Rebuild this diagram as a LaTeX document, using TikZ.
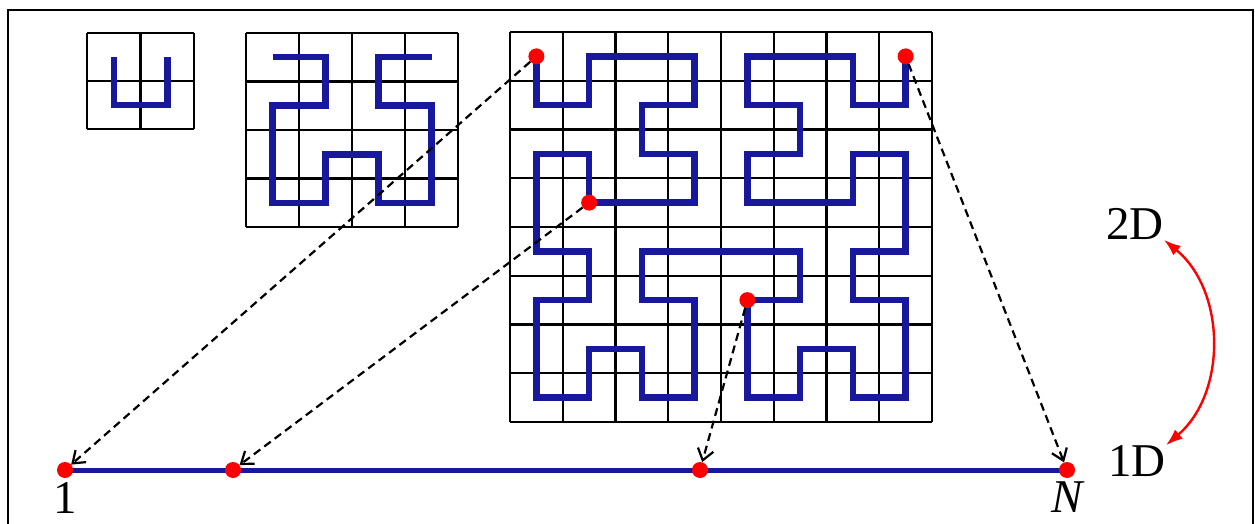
\documentclass[tikz,border=0pt]{standalone}
\usepackage{fontspec}
\setmainfont{Liberation Serif}
\usetikzlibrary{arrows.meta,backgrounds,positioning}

\definecolor{curveblue}{RGB}{24,24,156}

\begin{document}
\begin{tikzpicture}[
  x=1pt, y=-1pt,
  gridline/.style={draw, line width=2.4pt},
  hilbert/.style={draw=curveblue, line width=6.5pt, line join=miter},
  dot/.style={circle, fill=red, minimum size=16pt, inner sep=0pt},
  maparrow/.style={draw, line width=2.2pt, dash pattern=on 8pt off 5pt, -{Straight Barb[length=11pt,width=16pt]}},
  axisline/.style={draw=curveblue, line width=5pt},
  dimlabel/.style={font=\fontsize{47}{47}\selectfont, inner sep=0pt},
  swap/.style={draw=red, line width=2.4pt, {Latex[length=17pt,width=12pt]}-{Latex[length=17pt,width=12pt]}}
]
\useasboundingbox (0,0) rectangle (1255,524);
\draw[line width=2.5pt] (8,524) -- (8,10) -- (1253,10) -- (1253,524);

\begin{scope}[shift={(87,33)}, x=53.5pt, y=-48pt]
  \foreach \i in {0,...,2} {
    \draw[gridline] (\i,0) -- (\i,2);
    \draw[gridline] (0,\i) -- (2,\i);
  }
  \draw[hilbert, shift={(0.5,0.5)}] (0,0) -- (0,1) -- (1,1) -- (1,0);
\end{scope}

\begin{scope}[shift={(246,33)}, x=53pt, y=-48.5pt]
  \foreach \i in {0,...,4} {
    \draw[gridline] (\i,0) -- (\i,4);
    \draw[gridline] (0,\i) -- (4,\i);
  }
  \draw[hilbert, shift={(0.5,0.5)}] (0,0)
    \foreach \x/\y in {1/0,1/1,0/1,0/2,0/3,1/3,1/2,2/2,2/3,3/3,3/2,3/1,2/1,2/0,3/0} { -- (\x,\y) };
\end{scope}

\begin{scope}[shift={(510,32)}, x=52.75pt, y=-48.75pt]
  \foreach \i in {0,...,8} {
    \draw[gridline] (\i,0) -- (\i,8);
    \draw[gridline] (0,\i) -- (8,\i);
  }
  \draw[hilbert, shift={(0.5,0.5)}] (0,0)
    \foreach \x/\y in {0/1,1/1,1/0,2/0,3/0,3/1,2/1,2/2,3/2,3/3,2/3,1/3,1/2,0/2,0/3,
                       0/4,1/4,1/5,0/5,0/6,0/7,1/7,1/6,2/6,2/7,3/7,3/6,3/5,2/5,2/4,3/4,
                       4/4,5/4,5/5,4/5,4/6,4/7,5/7,5/6,6/6,6/7,7/7,7/6,7/5,6/5,6/4,7/4,
                       7/3,7/2,6/2,6/3,5/3,4/3,4/2,5/2,5/1,4/1,4/0,5/0,6/0,6/1,7/1,7/0} { -- (\x,\y) };
  \node[dot] (p1) at (0.5,0.5) {};
  \node[dot] (p2) at (1.5,3.5) {};
  \node[dot] (p3) at (4.5,5.5) {};
  \node[dot] (p4) at (7.5,0.5) {};
\end{scope}

\node[dot] (q1) at (65,470) {};
\node[dot] (q2) at (233,470) {};
\node[dot] (q3) at (700,470) {};
\node[dot] (qN) at (1067,470) {};
\begin{scope}[on background layer]
  \draw[axisline] (q1.center) -- (qN.center);
\end{scope}

\draw[maparrow] (p1) -- (q1);
\draw[maparrow] (p2) -- (q2);
\draw[maparrow] (p3) -- (q3);
\draw[maparrow] (p4) -- (qN);

\node[dimlabel, below=4pt of q1] (one) {1};
\node[dimlabel, below=3pt of qN] (nlab) {\itshape N};
\node[dimlabel] (lab2D) at (1135,224) {2D};
\node[dimlabel] (lab1D) at (1137,461) {1D};
\draw[swap] (lab2D.south east) to[bend left=50] (lab1D.north east);
\end{tikzpicture}
\end{document}
